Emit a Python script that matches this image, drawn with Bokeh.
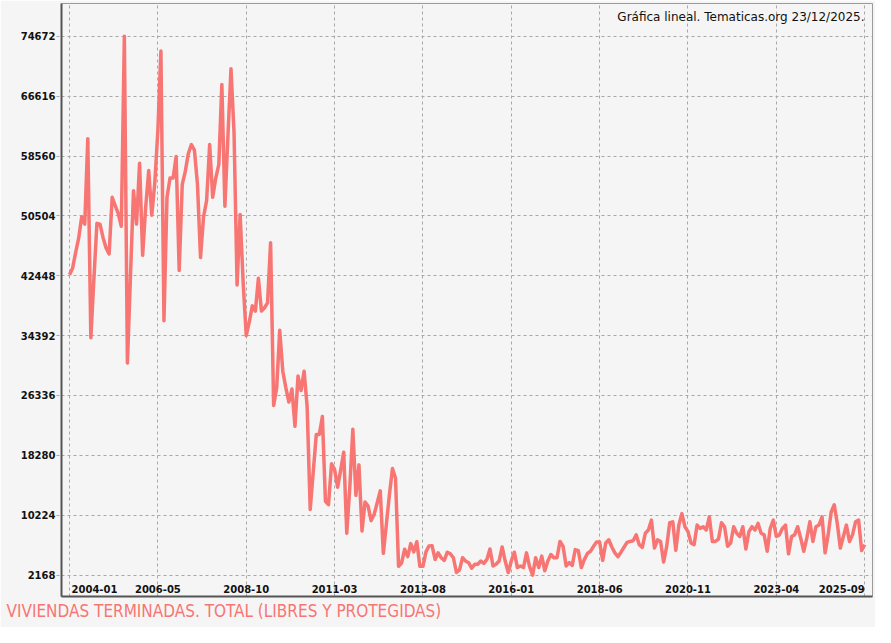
from bokeh.plotting import figure
from bokeh.models import FixedTicker, Label, Title, Range1d
from bokeh.embed import file_html
from bokeh.resources import INLINE

# Monthly values (viviendas terminadas, total)
values = [
    42600, 43450, 45550, 47500, 50400, 49400, 60900, 34100, 42000, 49500,
    49400, 47600, 46200, 45400, 53000, 51900, 50800, 49100, 74672, 30700,
    42300, 53900, 49400, 57600, 45200, 51700, 56600, 50600, 55000, 62000,
    72700, 36400, 53000, 55600, 55600, 58500, 43150, 54750, 56500, 58900,
    60100, 59350, 54750, 44900, 50400, 52550, 60100, 53000, 55600, 57400,
    68200, 51800, 61300, 70300, 61750, 41200, 50700, 41500, 34400, 36200,
    38400, 37700, 42100, 37700, 38150, 38800, 46900, 25000, 27400, 35100,
    29600, 27400, 25450, 27200, 22200, 28950, 27000, 29600, 24800, 11000,
    16050, 21100, 21100, 23500, 12100, 11650, 17150, 16400, 14000, 16300,
    18700, 7800, 14000, 21800, 12900, 17000, 8100, 12000, 11450, 9500,
    10350, 11900, 13500, 5100, 9000, 13000, 16500, 15200, 3350, 3800,
    5650, 4650, 6400, 5300, 6650, 3350, 3350, 5300, 6100, 6130,
    4280, 5160, 4500, 4150, 5250, 5030, 4500, 2520, 2870, 4500,
    4060, 3840, 3090, 3620, 3620, 4060, 3750, 4280, 5690, 3400,
    3620, 4060, 5950, 4060, 2520, 4060, 5250, 3180, 3400, 3180,
    5160, 3300, 2168, 4500, 3180, 4720, 2740, 4060, 4940, 4500,
    4500, 6700, 6040, 3400, 3840, 3480, 5600, 5470, 3180, 4280,
    5080, 5380, 6040, 6610, 6610, 4150, 6480, 6920, 5950, 5160,
    4630, 5250, 5910, 6570, 6700, 6790, 7580, 6260, 5900, 7800,
    8240, 9560, 5820, 6920, 6700, 3930, 6000, 9210, 9340, 5510,
    8900, 10440, 8680, 8020, 6480, 6260, 8900, 8460, 8680, 8240,
    10000, 6700, 6700, 7010, 9210, 8680, 6040, 6480, 8680, 7800,
    7360, 8680, 5690, 8020, 8680, 8240, 9120, 7800, 7580, 5380,
    8460, 9560, 7360, 7580, 8460, 8900, 5030, 7360, 7580, 8680,
    7140, 5380, 7140, 9340, 6700, 8680, 8900, 10000, 5160, 7580,
    10660, 11628, 9120, 5820, 7360, 8900, 6700, 7580, 9340, 9560,
    5470, 6260,
]
tick_index = [0, 29, 58, 87, 116, 145, 174, 203, 232, 261]
tick_labels = ["2004-01", "2006-05", "2008-10", "2011-03", "2013-08",
               "2016-01", "2018-06", "2020-11", "2023-04", "2025-09"]
y_ticks = [2168, 10224, 18280, 26336, 34392, 42448, 50504, 58560, 66616, 74672]
series_title = "VIVIENDAS TERMINADAS. TOTAL (LIBRES Y PROTEGIDAS)"
note_text = "Gráfica lineal. Tematicas.org 23/12/2025."

x = list(range(len(values)))

BG = "#f5f5f5"
LINE = "#f77573"
GRID = "#a8a8a8"
AXIS = "#555555"

p = figure(width=875, height=627, output_backend="svg", toolbar_location=None,
           x_range=Range1d(-2.63, 263.56), y_range=Range1d(-712, 79086),
           min_border_left=61, min_border_right=3, min_border_top=3,
           min_border_bottom=31)
p.background_fill_color = BG
p.border_fill_color = BG
p.outline_line_color = "#9a9a9a"
p.outline_line_width = 1

p.line(x, values, line_color=LINE, line_width=3.5, line_join="round")

# Y axis
p.yaxis.ticker = FixedTicker(ticks=y_ticks)
p.yaxis.axis_line_color = AXIS
p.yaxis.axis_line_width = 2
p.yaxis.major_tick_out = 5
p.yaxis.major_tick_in = 0
p.yaxis.major_tick_line_color = GRID
p.yaxis.major_tick_line_dash = "3 3"
p.yaxis.minor_tick_line_color = None
p.yaxis.major_label_standoff = 1
p.yaxis.major_label_text_font = "DejaVu Sans"
p.yaxis.major_label_text_font_style = "bold"
p.yaxis.major_label_text_font_size = "10px"
p.yaxis.major_label_text_color = "#111111"

# X axis: line only (labels are drawn inside the frame below)
p.xaxis.ticker = FixedTicker(ticks=[])
p.xaxis.axis_line_color = AXIS
p.xaxis.axis_line_width = 2
p.xaxis.major_tick_line_color = None
p.xaxis.minor_tick_line_color = None
p.xaxis.major_tick_out = 0
p.xaxis.major_tick_in = 0
p.xaxis.major_label_standoff = 0

for g in (p.xgrid, p.ygrid):
    g.grid_line_color = GRID
    g.grid_line_dash = "3 3"
    g.grid_line_width = 1
p.xgrid.ticker = FixedTicker(ticks=tick_index)
p.ygrid.ticker = FixedTicker(ticks=y_ticks)

n = len(tick_index)
for k, (ti, lab) in enumerate(zip(tick_index, tick_labels)):
    if k == 0:
        align, off = "left", 2
    elif k == n - 1:
        align, off = "right", 0
    else:
        align, off = "center", 0
    p.add_layout(Label(x=ti, y=8, x_units="data", y_units="screen", text=lab,
                       text_align=align, text_baseline="middle", x_offset=off,
                       text_font="DejaVu Sans", text_font_style="bold",
                       text_font_size="10px", text_color="#111111"))

p.add_layout(Label(x=803, y=580, x_units="screen", y_units="screen",
                   text=note_text, text_align="right", text_baseline="middle",
                   text_font="DejaVu Sans", text_font_size="12px",
                   text_color="#111111"))

t = Title(text=series_title, align="left", text_color=LINE,
          text_font="'Liberation Sans Narrow', 'DejaVu Sans Condensed', Roboto, sans-serif",
          text_font_size="17px", text_font_style="normal", offset=-55, standoff=5)
p.add_layout(t, "below")

open("out.html", "w").write(file_html(p, INLINE))
